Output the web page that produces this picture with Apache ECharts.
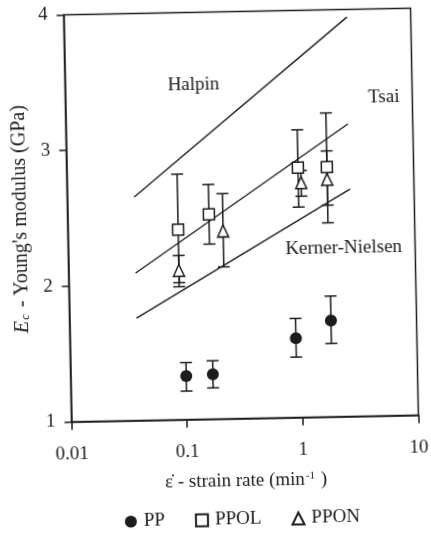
<!DOCTYPE html>
<html>
<head>
<meta charset="utf-8">
<script src="https://cdn.jsdelivr.net/npm/echarts@6/dist/echarts.min.js"></script>
<style>
html,body{margin:0;padding:0;background:#fff;overflow:hidden;}
#chart{position:absolute;left:0;top:0;width:431px;height:533px;transform:rotate(-1.1deg);transform-origin:241px 215px;}
</style>
</head>
<body>
<div id="chart"></div>
<script>
// tick labels
const xTickLabels = ['0.01', '0.1', '1', '10'];
const yTickLabels = ['1', '2', '3', '4'];

// PP (filled circles)
const ppX  = [0.10, 0.17, 0.90, 1.82];
const ppY  = [1.32, 1.33, 1.585, 1.71];
const ppLo = [1.21, 1.23, 1.445, 1.54];
const ppHi = [1.42, 1.43, 1.73, 1.89];

// PPOL (open squares)
const ppolX  = [0.09, 0.167, 1.00, 1.78];
const ppolY  = [2.40, 2.51, 2.84, 2.84];
const ppolLo = [1.98, 2.29, 2.55, 2.43];
const ppolHi = [2.81, 2.73, 3.12, 3.24];

// PPON (open triangles)
const pponX  = [0.09, 0.22, 1.06, 1.78];
const pponY  = [2.10, 2.385, 2.73, 2.75];
const pponLo = [2.01, 2.12, 2.63, 2.56];
const pponHi = [2.21, 2.66, 2.82, 2.96];

// model lines
const halpinX = [0.038, 2.81];
const halpinY = [2.648, 3.944];
const tsaiX   = [0.038, 2.75];
const tsaiY   = [2.087, 3.156];
const knX     = [0.038, 2.80];
const knY     = [1.755, 2.676];

const INK = '#1c1c1c';
const FONT = '"Liberation Serif", "Times New Roman", serif';

function pairs(xs, ys) { return xs.map((x, i) => [x, ys[i]]); }
function errData(xs, lo, hi) { return xs.map((x, i) => [x, lo[i], hi[i]]); }

function renderErr(params, api) {
  const x = api.value(0), lo = api.value(1), hi = api.value(2);
  const p1 = api.coord([x, lo]);
  const p2 = api.coord([x, hi]);
  const w = 6;
  const st = { stroke: INK, lineWidth: 1.5 };
  return {
    type: 'group',
    children: [
      { type: 'line', shape: { x1: p1[0], y1: p1[1], x2: p2[0], y2: p2[1] }, style: st },
      { type: 'line', shape: { x1: p1[0] - w, y1: p1[1], x2: p1[0] + w, y2: p1[1] }, style: st },
      { type: 'line', shape: { x1: p2[0] - w, y1: p2[1], x2: p2[0] + w, y2: p2[1] }, style: st }
    ]
  };
}

function errSeries(xs, lo, hi) {
  return {
    type: 'custom', renderItem: renderErr, data: errData(xs, lo, hi),
    encode: { x: 0, y: [1, 2] }, z: 1, silent: true
  };
}

function modelLine(name, xs, ys) {
  return {
    name: name, type: 'line', data: pairs(xs, ys), symbol: 'none', z: 0,
    lineStyle: { color: INK, width: 1.4 }, silent: true
  };
}

const chart = echarts.init(document.getElementById('chart'), null, { renderer: 'canvas' });

const option = {
  animation: false,
  backgroundColor: '#fff',
  textStyle: { fontFamily: FONT, color: INK },
  grid: {
    left: 67.5, right: 16.5, top: 11.5, bottom: 114.5,
    show: true, borderColor: INK, borderWidth: 1.5, backgroundColor: 'transparent'
  },
  xAxis: {
    type: 'log', logBase: 10, min: 0.01, max: 10,
    axisLine: { lineStyle: { color: INK, width: 1.5 } },
    axisTick: { show: true, inside: false, length: 8, lineStyle: { color: INK, width: 1.5 } },
    minorTick: { show: false },
    splitLine: { show: false },
    axisLabel: {
      color: INK, fontSize: 19, fontFamily: FONT, margin: 23,
      formatter: function (v) {
        const e = Math.round(Math.log10(v));
        return xTickLabels[e + 2];
      }
    },
    name: '{a|ε̇ - strain rate (min}{s|-1}{a| )}',
    nameLocation: 'middle', nameGap: 53,
    nameTextStyle: {
      rich: {
        a: { fontSize: 19, fontFamily: FONT, color: INK },
        s: { fontSize: 11, fontFamily: FONT, color: INK, verticalAlign: 'top', padding: [0, 1, 8, 1] }
      }
    }
  },
  yAxis: {
    type: 'value', min: 1, max: 4, interval: 1,
    axisLine: { show: true, lineStyle: { color: INK, width: 1.5 } },
    axisTick: { show: true, inside: false, length: 7, lineStyle: { color: INK, width: 1.5 } },
    splitLine: { show: false },
    axisLabel: {
      color: INK, fontSize: 19, fontFamily: FONT, margin: 16,
      formatter: function (v) { return yTickLabels[Math.round(v) - 1]; }
    },
    name: '{e|E}{c|c}{a| - Young\'s modulus (GPa)}',
    nameLocation: 'middle', nameGap: 37, nameRotate: 90,
    nameTextStyle: {
      rich: {
        e: { fontSize: 20, fontFamily: FONT, fontStyle: 'italic', color: INK },
        c: { fontSize: 13, fontFamily: FONT, fontStyle: 'italic', color: INK, verticalAlign: 'bottom', padding: [6, 2, 0, 1] },
        a: { fontSize: 20, fontFamily: FONT, color: INK }
      }
    }
  },
  legend: {
    data: ['PP', 'PPOL', 'PPON'],
    left: 114, top: 505,
    itemWidth: 12, itemHeight: 12, itemGap: 30,
    selectedMode: false,
    textStyle: { fontSize: 19, fontFamily: FONT, color: INK, padding: [0, 0, 0, 2] }
  },
  graphic: [
    { type: 'text', x: 196, y: 84, style: { text: 'Halpin', fontSize: 19, fontFamily: FONT, fill: INK, align: 'center', verticalAlign: 'middle' } },
    { type: 'text', x: 386, y: 100, style: { text: 'Tsai', fontSize: 19, fontFamily: FONT, fill: INK, align: 'center', verticalAlign: 'middle' } },
    { type: 'text', x: 343, y: 250, style: { text: 'Kerner-Nielsen', fontSize: 19, fontFamily: FONT, fill: INK, align: 'center', verticalAlign: 'middle' } }
  ],
  series: [
    modelLine('Halpin', halpinX, halpinY),
    modelLine('Tsai', tsaiX, tsaiY),
    modelLine('Kerner-Nielsen', knX, knY),
    errSeries(ppX, ppLo, ppHi),
    errSeries(ppolX, ppolLo, ppolHi),
    errSeries(pponX, pponLo, pponHi),
    {
      name: 'PP', type: 'scatter', data: pairs(ppX, ppY), symbol: 'circle', symbolSize: 12, z: 3,
      itemStyle: { color: INK, borderColor: INK, borderWidth: 0, opacity: 1 }
    },
    {
      name: 'PPOL', type: 'scatter', data: pairs(ppolX, ppolY), symbol: 'rect', symbolSize: 11, z: 3,
      itemStyle: { color: '#fff', borderColor: INK, borderWidth: 1.5, opacity: 1 }
    },
    {
      name: 'PPON', type: 'scatter', data: pairs(pponX, pponY), symbol: 'triangle', symbolSize: [11, 12], z: 3,
      itemStyle: { color: '#fff', borderColor: INK, borderWidth: 1.5, opacity: 1 }
    }
  ]
};
chart.setOption(option);
</script>
</body>
</html>
